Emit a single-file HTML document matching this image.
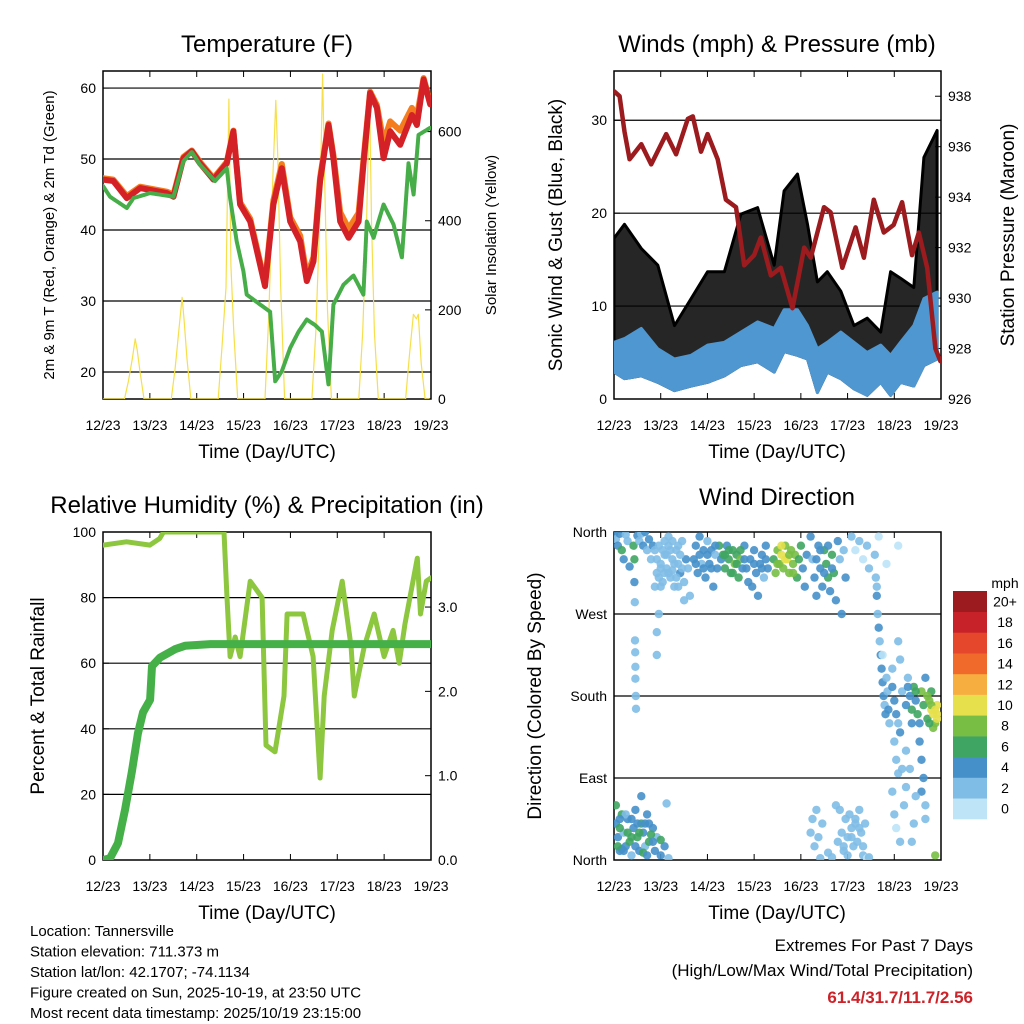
<!DOCTYPE html>
<html><head><meta charset="utf-8"><style>
html,body{margin:0;padding:0;background:#fff;}
svg{display:block;font-family:"Liberation Sans",Arial,sans-serif;}
</style></head><body>
<svg id="chart" width="1024" height="1024" viewBox="0 0 1024 1024">
<defs>
<clipPath id="c1"><rect x="103" y="71" width="328" height="328"/></clipPath>
<clipPath id="c2"><rect x="614" y="71" width="327" height="328"/></clipPath>
<clipPath id="c3"><rect x="103" y="532" width="328" height="328"/></clipPath>
<clipPath id="c4"><rect x="614" y="532" width="327" height="328"/></clipPath>
</defs>
<text x="267" y="52" font-size="24" text-anchor="middle">Temperature (F)</text>
<text x="777" y="52" font-size="24" text-anchor="middle">Winds (mph) &amp; Pressure (mb)</text>
<text x="267" y="513" font-size="24" text-anchor="middle">Relative Humidity (%) &amp; Precipitation (in)</text>
<text x="777" y="505" font-size="24" text-anchor="middle">Wind Direction</text>
<text x="267" y="458" font-size="19" text-anchor="middle">Time (Day/UTC)</text>
<text x="777" y="458" font-size="19" text-anchor="middle">Time (Day/UTC)</text>
<text x="267" y="919" font-size="19" text-anchor="middle">Time (Day/UTC)</text>
<text x="777" y="919" font-size="19" text-anchor="middle">Time (Day/UTC)</text>
<text transform="translate(54,235) rotate(-90)" font-size="15" text-anchor="middle">2m &amp; 9m T (Red, Orange) &amp; 2m Td (Green)</text>
<text transform="translate(496,235) rotate(-90)" font-size="15" text-anchor="middle">Solar Insolation (Yellow)</text>
<text transform="translate(562,235) rotate(-90)" font-size="19" text-anchor="middle">Sonic Wind &amp; Gust (Blue, Black)</text>
<text transform="translate(1014,235) rotate(-90)" font-size="19" text-anchor="middle">Station Pressure (Maroon)</text>
<text transform="translate(44,696) rotate(-90)" font-size="19" text-anchor="middle">Percent &amp; Total Rainfall</text>
<text transform="translate(541,696) rotate(-90)" font-size="19" text-anchor="middle">Direction (Colored By Speed)</text>
<g font-size="15">
<text x="30" y="936">Location: Tannersville</text>
<text x="30" y="956.5">Station elevation: 711.373 m</text>
<text x="30" y="977">Station lat/lon: 42.1707; -74.1134</text>
<text x="30" y="997.5">Figure created on Sun, 2025-10-19, at 23:50 UTC</text>
<text x="30" y="1018">Most recent data timestamp: 2025/10/19 23:15:00</text>
</g>
<g font-size="17" text-anchor="end">
<text x="973" y="951">Extremes For Past 7 Days</text>
<text x="973" y="976">(High/Low/Max Wind/Total Precipitation)</text>
<text x="973" y="1003" fill="#cc2229" font-weight="bold">61.4/31.7/11.7/2.56</text>
</g>
<g id="layer"></g>
</svg>
<script>
// ---- Temperature panel data (hours since 12/23) ----
const tempT=[0,5.3,12.2,19,32.7,36.1,41.2,45.5,49.7,56.6,63.4,66.8,70.2,75.4,83,87.3,91.6,95.9,101,104.4,107.8,111.2,115.5,118,121.5,125.8,130.9,133.4,136.8,140.3,143.7,147.1,152.2,158.2,160.8,164.2,167.6];
const tempRed=[47.1,46.9,44.5,45.9,45.2,44.7,50.1,51.1,49.4,47.1,49.4,53.9,43.6,41.2,32.1,43.6,48.7,41.2,38.4,32.8,35.6,46.9,54.8,50.1,41.2,38.9,41.2,49.2,59.3,57.2,50.1,53.9,52.0,56.2,54.8,61.2,57.7];
const tempOrange=[47.3,47.1,44.8,46.1,45.4,45.0,50.3,51.2,49.6,47.3,49.6,54.0,43.9,41.6,32.5,44.2,49.3,41.8,39.2,33.5,36.2,47.4,55.0,50.6,42.5,40.2,42.4,49.8,59.5,57.6,52.3,55.3,54.0,57.2,56.0,61.4,58.0];
const dewT=[0,3.6,12.2,15.6,24.1,36.1,41.2,45.5,49.7,57.4,63.4,65.1,68.5,71.9,73.6,80.5,85.6,88.2,91.6,95.9,100.2,104.4,108.7,112.1,115.5,118,123.2,128.3,133.4,135.1,138.6,143.7,148.8,153.1,156.5,159.1,161.6,167.6];
const dewpt=[46.2,44.7,43.1,44.5,45.2,44.7,49.7,51.0,49.2,46.9,48.7,44.5,38.4,34.2,30.9,29.5,28.5,18.7,20.1,23.4,25.7,27.4,26.6,25.7,18.2,29.5,32.3,33.6,30.9,41.2,38.9,43.6,40.8,36.1,49.4,45.0,53.4,54.4];
const solarT=[0,11,13,15,16.5,17.5,19,21, 35,37,39,40.5,41.5,43,45, 59,61,63,64.5,65.5,67,69, 83,85,87,88.5,89.5,91,93, 107,109,111,112.5,113.5,115,117, 131,133,135,136.5,137.5,139,141, 155,157,159,160.5,161.5,163,165,167];
const solarW=[0,0,40,90,135,110,60,0, 0,70,160,228,180,90,0, 0,120,250,673,300,150,0, 0,200,500,670,550,250,0, 0,150,400,729,500,200,0, 0,150,400,690,400,150,0, 0,100,190,180,190,80,0,0];
// ---- Wind panel data ----
const windT=[0,5.4,14,22.5,31.1,39.6,48.1,56.7,65.2,73.8,82.3,87.4,94.3,99.4,104.5,109.6,116.5,123.3,130.1,137,142.1,147.2,154,159.2,166];
const sustLow=[2.9,2.2,2.5,1.8,0.9,1.4,1.8,2.5,3.6,4.0,2.9,5.1,4.7,4.3,0.7,2.9,2.2,1.1,0.4,1.8,0.4,1.8,1.4,3.6,4.3];
const sustHigh=[6.1,6.5,7.6,5.4,4.3,4.7,5.8,6.1,7.2,8.3,7.6,9.6,9.6,7.9,5.4,6.1,7.2,6.1,5.0,5.8,4.7,6.1,7.9,10.8,11.5];
const gustHigh=[17.3,18.8,16.2,14.4,7.9,10.8,13.7,13.7,19.9,20.6,14.4,22.4,24.2,18.8,12.6,13.7,11.6,7.9,8.7,7.2,13.7,13.0,12.0,26.0,28.9];
const presT=[0,2.9,5.4,8,14,19.1,26.8,31.9,37.9,40.5,44.7,48.1,53.3,57.5,62.7,66.9,72,75.4,80.6,85.7,91.7,97.7,101.1,107.9,111.3,117.3,124.1,128.4,133.5,138.6,143.7,148,153.1,156.6,160.9,165.1,167.7];
const pressure=[938.2,938.0,936.6,935.5,936.1,935.3,936.5,935.7,937.1,937.2,935.8,936.5,935.5,933.9,933.6,931.3,931.7,932.4,930.9,931.2,929.6,932.0,931.6,933.6,933.4,931.2,932.8,931.6,933.9,932.6,932.9,933.8,931.7,932.6,931.2,928.0,927.5];
// ---- RH / precip data ----
const rhT=[0,12,24,29,31,62,63.5,65.1,67.7,70.2,75.4,81.5,83.5,88.1,92.7,94.3,102.5,107.6,111.2,113.3,117.4,122.5,127.1,128.7,133.8,138.9,144,148.6,151.7,154.7,161,162.6,165.6,168];
const rhVals=[96,97,96,98,100,100,80,62,68,62,85,80,35,33,50,75,75,62,25,50,70,85,65,50,65,75,62,70,60,72,92,75,85,86];
const prT=[0,3.6,7.7,11.3,14.8,17.9,20.5,24.1,25.1,29.2,36.9,42,55,84,168];
const precip=[0,0.02,0.2,0.6,1.05,1.5,1.75,1.9,2.3,2.4,2.5,2.54,2.56,2.56,2.56];
// ---- Wind direction scatter data ----
const dirT=[1,2,3,4,5,6,7,8,9,10,11,12,13,14,15,16,17,18,20,21,22,24,26,28,1,3,6,9,12,15,19,4,18,24,27,14,
0,1,2,3,4,5,6,7,8,10,10.5,10.5,10.7,10.8,10.9,11,11,11.2,11.3,12,13,14,15,16,17,18,19,20,
21,22,23,24,25,26,27,28,29,30,31,32,33,34,35,36,37,38,39,22,23,22,28,33,26,30,24,36,
41,42,43,44,45,46,47,48,49,50,51,52,53,54,55,
56,57,58,59,60,61,62,63,64,65,66,67,68,69,70,71,72,73,74,75,76,77,78,79,
82,83,84,85,86,87,88,89,90,91,92,93,94,95,96,97,98,99,
101,102,103,104,105,106,107,108,109,110,111,112,113,114,115,116,117,118,119,
122,124,126,128,130,131,136,140,146,
134,134.5,135,135.5,136,136.5,137,137.5,138,138.5,139,139.5,140,140.5,141,141.5,135,138,
143,144,145,146,147,148,144,145,146,143,144,145,147,149,150,150,148,143,146,147,
152,153,154,155,156,157,158,159,160,161,162,163,164,165,166,164,166,157,158,159,158,160,160,152,154,155,153,151,163,165,
101,102,103,104,105,106,107,115,116,117,118,119,120,121,122,123,124,125,126,127,128,129,130,110,112,114,131,125];
const dirDeg=[40,25,10,50,30,15,45,20,5,35,55,25,10,40,30,15,50,20,35,10,25,5,15,2,60,35,50,25,40,8,28,12,40,22,62,70,
358,352,345,358,340,330,357,350,322,345,330,305,283,241,228,212,199,180,166,356,350,358,345,360,340,352,330,345,
300,330,310,325,340,335,320,345,310,330,300,340,325,315,350,305,330,320,290,250,270,225,355,345,315,318,300,285,
330,345,315,355,325,340,310,350,325,340,300,335,320,345,330,
335,320,345,330,315,340,325,335,310,330,320,345,320,305,330,300,340,315,290,325,335,310,345,320,
330,315,340,325,335,320,345,330,315,340,325,335,310,330,345,320,300,335,
355,330,310,290,345,320,300,340,325,310,295,335,315,285,350,330,270,340,310,
355,340,350,330,345,320,355,325,345,
335,310,290,270,255,240,225,210,195,180,170,160,200,185,165,150,300,225,
190,175,160,150,140,185,130,110,95,75,50,35,20,60,80,120,100,210,240,220,
180,165,190,175,160,150,185,170,200,155,175,165,160,150,170,145,155,130,110,90,75,60,45,100,40,70,20,200,185,
5,30,45,15,55,25,2,40,20,55,30,10,45,25,50,35,15,40,20,55,30,5,40,2,8,3,60,3];
const dirSpd=[4,5,4,6,3,5,4,6,3,5,4,7,5,6,4,3,5,6,4,5,3,4,5,3,7,6,3,6,4,6,7,5,4,6,2,4,
4,3,4,5,6,4,3,2,4,6,7,4,3,2,2,2,2,2,2,4,3,2,4,4,3,4,3,4,
3,2,3,2,2,2,3,2,2,2,2,3,2,4,2,2,4,3,2,2,3,2,2,2,2,2,2,3,
4,4,5,4,3,5,4,3,4,5,4,3,4,6,4,
6,7,5,7,6,7,8,7,6,8,5,4,4,4,5,4,4,5,4,4,4,3,5,4,
6,8,8,9,10,8,9,10,8,9,8,8,7,6,6,4,4,5,
4,3,4,4,4,5,4,6,7,6,5,6,7,4,4,3,4,3,4,
2,1,2,1,2,2,1,1,1,
2,3,4,3,4,3,4,4,5,4,3,4,2,3,4,2,2,1,
4,5,4,3,4,3,2,3,2,2,2,1,2,2,3,2,3,3,2,2,
5,6,7,4,6,4,8,7,5,6,9,10,10,9,11,8,10,4,4,4,4,3,2,3,2,2,2,2,7,8,
2,2,2,2,2,2,2,2,2,2,2,2,2,2,3,2,2,2,2,2,2,2,1,2,2,2,3,1];
const dirT2=[21,22,23,24,25,26,27,28,29,30,31,32,33,34,35,42,44,46,48,50,52,57,59,61,63,65,67,84,86,88,90,92,104,106,108,110,112,72,76,78,
2,3,5,7,9,11,13,16,17,20, 150,151,153,155,161,163,165,166,162, 118,120,122,124,126,128];
const dirDeg2=[340,315,345,320,305,350,335,315,340,350,325,310,300,335,320,325,335,320,335,320,345,335,340,315,325,340,330,325,345,330,335,315,330,340,315,345,320,325,320,330,
15,45,10,30,45,15,30,40,5,20, 170,190,150,185,180,170,165,160,150, 15,5,25,45,35,15];
const dirSpd2=[2,2,2,2,2,2,2,2,2,2,2,2,2,2,2,4,5,4,4,4,4,6,6,6,6,7,5,9,10,11,9,9,4,5,5,4,5,4,4,5,
6,5,4,6,5,4,6,5,4,5, 4,5,4,6,8,9,10,11,7, 2,2,2,2,2,2];
// ---- Color bar ----
const barLabels=['0','2','4','6','8','10','12','14','16','18','20+'];
const barColors=['#bde4f7','#7fbde6','#4690ca','#3fa562','#78be44','#e5e04b','#f7ae40','#f06b2b','#e4472b','#c7212a','#9c1b1f'];
const dayLabels=['12/23','13/23','14/23','15/23','16/23','17/23','18/23','19/23'];

const NS='http://www.w3.org/2000/svg';
const layer=document.getElementById('layer');
function mk(tag,attrs,parent){const e=document.createElementNS(NS,tag);for(const k in attrs)e.setAttribute(k,attrs[k]);(parent||layer).appendChild(e);return e;}
function scale(d0,d1,r0,r1){return v=>r0+(v-d0)*(r1-r0)/(d1-d0);}
function pts(xs,ys,sx,sy){return xs.map((t,i)=>sx(t).toFixed(1)+','+sy(ys[i]).toFixed(1)).join(' ');}

function frame(P,name){
  const g=mk('g',{});
  
  
  const sx=scale(0,168,P.x0,P.x1);
  P.grid.forEach(v=>{const y=P.sy(v);const l=mk('line',{x1:P.x0,x2:P.x1,y1:y,y2:y,stroke:'#000','stroke-width':1.2},g);
    
    });
  dayLabels.forEach((d,i)=>{const x=sx(i*24);
    mk('line',{x1:x,x2:x,y1:P.y1,y2:P.y1-6,stroke:'#000'},g);
    mk('line',{x1:x,x2:x,y1:P.y0,y2:P.y0+6,stroke:'#000'},g);
    const t=mk('text',{x:x,y:P.y1+31,'font-size':14,'text-anchor':'middle'},g);t.textContent=d;
    
    });
  P.lt.forEach((v,i)=>{const y=P.sy(v);
    mk('line',{x1:P.x0,x2:P.x0+6,y1:y,y2:y,stroke:'#000'},g);
    const t=mk('text',{x:P.x0-7,y:y+5,'font-size':14,'text-anchor':'end'},g);t.textContent=P.ll[i];
    
    });
  if(P.rt){P.rt.forEach((v,i)=>{const y=P.ry(v);
    mk('line',{x1:P.x1,x2:P.x1-6,y1:y,y2:y,stroke:'#000'},g);
    const t=mk('text',{x:P.x1+7,y:y+5,'font-size':14,'text-anchor':'start'},g);t.textContent=P.rl[i];
    
    });}
  const r=mk('rect',{x:P.x0,y:P.y0,width:P.x1-P.x0,height:P.y1-P.y0,fill:'none',stroke:'#000','stroke-width':1.5},g);
  
  
  return sx;
}
function line(xs,ys,sx,sy,color,w,clip,name){
  const p=mk('polyline',{points:pts(xs,ys,sx,sy),fill:'none',stroke:color,'stroke-width':w,'stroke-linejoin':'round','stroke-linecap':'round','clip-path':'url(#'+clip+')'});
  
  
  return p;
}

// Panel 1
const P1={x0:103,x1:431,y0:71,y1:399};
P1.sy=scale(16.2,62.4,399,71);P1.ry=scale(0,736,399,71);
P1.grid=[20,30,40,50,60];P1.lt=[20,30,40,50,60];P1.ll=['20','30','40','50','60'];
P1.rt=[0,200,400,600];P1.rl=['0','200','400','600'];
const sx1=frame(P1,'temperature');
line(solarT,solarW,sx1,P1.ry,'#f6df4a',1.2,'c1','solar-insolation-line');
line(tempT,tempOrange,sx1,P1.sy,'#f47d20',6,'c1','temp-9m-line');
line(tempT,tempRed,sx1,P1.sy,'#d42027',6,'c1','temp-2m-line');
const dl=line(dewT,dewpt,sx1,P1.sy,'#46ad49',4,'c1','dewpoint-line');
dl.setAttribute('stroke-dasharray','3 1');

// Panel 2
const P2={x0:614,x1:941,y0:71,y1:399};
P2.sy=scale(0,35.3,399,71);P2.ry=scale(926,939,399,71);
P2.grid=[10,20,30];P2.lt=[0,10,20,30];P2.ll=['0','10','20','30'];
P2.rt=[926,928,930,932,934,936,938];P2.rl=['926','928','930','932','934','936','938'];
const sx2=frame(P2,'winds');
const gust=mk('polygon',{points:pts(windT,gustHigh,sx2,P2.sy)+' '+pts(windT.slice().reverse(),sustLow.slice().reverse(),sx2,P2.sy),fill:'#000','fill-opacity':0.85,stroke:'#000','stroke-width':3,'stroke-linejoin':'round','clip-path':'url(#c2)'});


const sust=mk('polygon',{points:pts(windT,sustHigh,sx2,P2.sy)+' '+pts(windT.slice().reverse(),sustLow.slice().reverse(),sx2,P2.sy),fill:'#4f97d1',stroke:'#4f97d1','stroke-width':3,'stroke-linejoin':'round','clip-path':'url(#c2)'});


line(presT,pressure,sx2,P2.ry,'#9b1b1e',4.5,'c2','pressure-line');

// Panel 3
const P3={x0:103,x1:431,y0:532,y1:860};
P3.sy=scale(0,100,860,532);P3.ry=scale(0,3.89,860,532);
P3.grid=[20,40,60,80];P3.lt=[0,20,40,60,80,100];P3.ll=['0','20','40','60','80','100'];
P3.rt=[0,1,2,3];P3.rl=['0.0','1.0','2.0','3.0'];
const sx3=frame(P3,'humidity');
line(rhT,rhVals,sx3,P3.sy,'#8dc63f',5,'c3','relative-humidity-line');
line(prT,precip,sx3,P3.ry,'#45b048',8,'c3','precipitation-line');

// Panel 4
const P4={x0:614,x1:941,y0:532,y1:860};
P4.sy=scale(0,360,860,532);
P4.grid=[90,180,270];P4.lt=[0,90,180,270,360];P4.ll=['North','East','South','West','North'];
const sx4=frame(P4,'wind-direction');
function dots(ts,ds,ss){
  ts.forEach((t,i)=>{
    const bin=Math.min(10,Math.floor(ss[i]/2));
    const c=mk('circle',{cx:sx4(t).toFixed(1),cy:P4.sy(ds[i]).toFixed(1),r:4.2,fill:barColors[bin],'fill-opacity':0.9,'clip-path':'url(#c4)'});
    
    
  });
}
dots(dirT,dirDeg,dirSpd);
dots(dirT2,dirDeg2,dirSpd2);
// colorbar
const cb=mk('g',{});


const mph=mk('text',{x:1005,y:588,'font-size':14,'text-anchor':'middle'},cb);mph.textContent='mph';


const bh=228/barColors.length;
barColors.forEach((col,i)=>{
  const y=819-(i+1)*bh;
  const r=mk('rect',{x:953,y:y.toFixed(1),width:34,height:(bh+0.3).toFixed(1),fill:col},cb);
  
  
  const t=mk('text',{x:1005,y:(y+bh/2+5).toFixed(1),'font-size':14,'text-anchor':'middle'},cb);t.textContent=barLabels[i];
  
  
});
</script>
</body></html>
